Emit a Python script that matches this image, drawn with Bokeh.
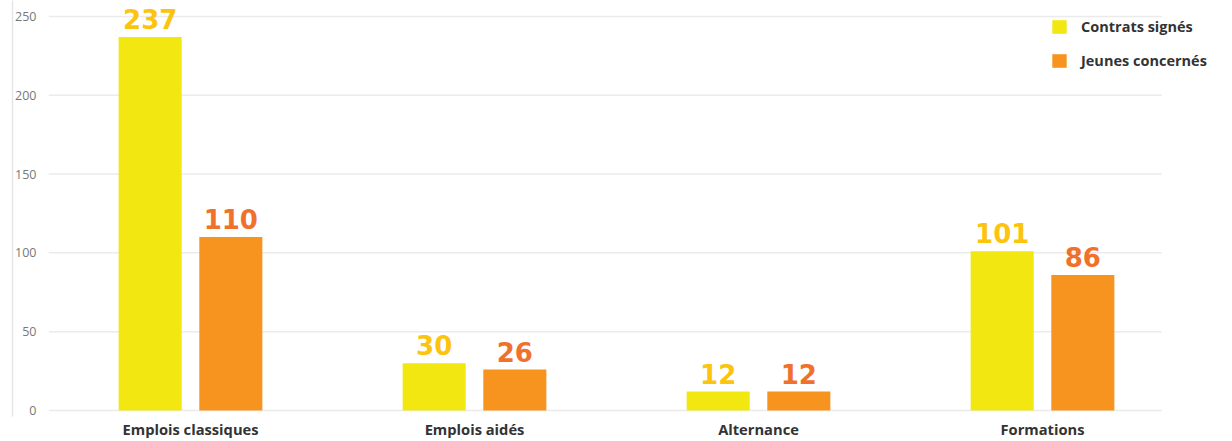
from bokeh.plotting import figure
from bokeh.models import (ColumnDataSource, Range1d, LinearAxis, FixedTicker,
                          Legend, LegendItem)
from bokeh.core.properties import value
from bokeh.embed import file_html
from bokeh.resources import INLINE

categories = ["Emplois classiques", "Emplois aidés", "Alternance", "Formations"]
contrats = [237, 30, 12, 101]
jeunes = [110, 26, 12, 86]
y_ticks = [0, 50, 100, 150, 200, 250]

YELLOW = "#F2E711"
ORANGE = "#F7941F"
YELLOW_TXT = "#FCC30F"
ORANGE_TXT = "#F0712C"

centers = [i + 0.5 for i in range(len(categories))]
off = 0.142
bw = 0.222
grid_end = 3.92  # gridlines stop short of the legend area

src = ColumnDataSource(dict(
    xc=[c - off for c in centers],
    xj=[c + off for c in centers],
    c=contrats, j=jeunes,
    ct=[str(v) for v in contrats], jt=[str(v) for v in jeunes],
))

p = figure(width=1232, height=441, output_backend="svg", toolbar_location=None,
           x_range=Range1d(0, 4.169), y_range=Range1d(-3.8, 260.1),
           min_border_left=48, min_border_right=0, min_border_top=0,
           min_border_bottom=0, y_axis_location=None)
p.outline_line_color = None
p.background_fill_color = "white"
p.border_fill_color = "white"
p.xgrid.grid_line_color = None
p.ygrid.grid_line_color = None

# horizontal gridlines, drawn at the tick values
p.segment(x0=[0] * len(y_ticks), x1=[grid_end] * len(y_ticks), y0=y_ticks, y1=y_ticks,
          line_color="#ebebeb", line_width=1.5)

rc = p.vbar(x="xc", top="c", bottom=0, width=bw, source=src, fill_color=YELLOW, line_color=None)
rj = p.vbar(x="xj", top="j", bottom=0, width=bw, source=src, fill_color=ORANGE, line_color=None)

p.text(x="xc", y="c", text="ct", source=src, text_align="center", text_baseline="bottom",
       y_offset=-8, text_font=value("DejaVu Sans"), text_font_style="bold",
       text_font_size="26px", text_color=YELLOW_TXT)
p.text(x="xj", y="j", text="jt", source=src, text_align="center", text_baseline="bottom",
       y_offset=-8, text_font=value("DejaVu Sans"), text_font_style="bold",
       text_font_size="26px", text_color=ORANGE_TXT)

# y axis (labels)
ya = LinearAxis(ticker=FixedTicker(ticks=y_ticks))
ya.axis_line_color = None
ya.major_tick_line_color = None
ya.minor_tick_line_color = None
ya.major_tick_out = 0
ya.major_tick_in = 0
ya.major_label_standoff = 12
ya.major_label_text_font = "Open Sans"
ya.major_label_text_font_size = "12.5px"
ya.major_label_text_color = "#777777"
p.add_layout(ya, "left")

# outer axis: only a light vertical line
ya2 = LinearAxis(ticker=FixedTicker(ticks=[]))
ya2.axis_line_color = "#e6e6e6"
ya2.axis_line_width = 1.5
ya2.major_tick_line_color = None
ya2.minor_tick_line_color = None
ya2.major_tick_out = 0
ya2.major_tick_in = 0
ya2.major_label_text_font_size = "0px"
ya2.major_label_standoff = 0
p.add_layout(ya2, "left")

xa = p.xaxis[0]
xa.ticker = FixedTicker(ticks=centers)
xa.major_label_overrides = {c: name for c, name in zip(centers, categories)}
xa.axis_line_color = None
xa.major_tick_line_color = None
xa.minor_tick_line_color = None
xa.major_tick_out = 0
xa.major_tick_in = 0
xa.major_label_standoff = 2
xa.major_label_text_font = "Open Sans"
xa.major_label_text_font_style = "bold"
xa.major_label_text_font_size = "14.7px"
xa.major_label_text_color = "#333333"

legend = Legend(items=[LegendItem(label="Contrats signés", renderers=[rc]),
                       LegendItem(label="Jeunes concernés", renderers=[rj])],
                location=(1002, 346))
legend.padding = 0
legend.margin = 0
legend.spacing = 15
legend.glyph_width = 18
legend.glyph_height = 17
legend.label_height = 17
legend.label_standoff = 13
legend.border_line_color = None
legend.background_fill_alpha = 0
legend.label_text_font = "Open Sans"
legend.label_text_font_style = "bold"
legend.label_text_font_size = "14.5px"
legend.label_text_color = "#333333"
p.add_layout(legend, "center")

open("out.html", "w").write(file_html(p, INLINE))
